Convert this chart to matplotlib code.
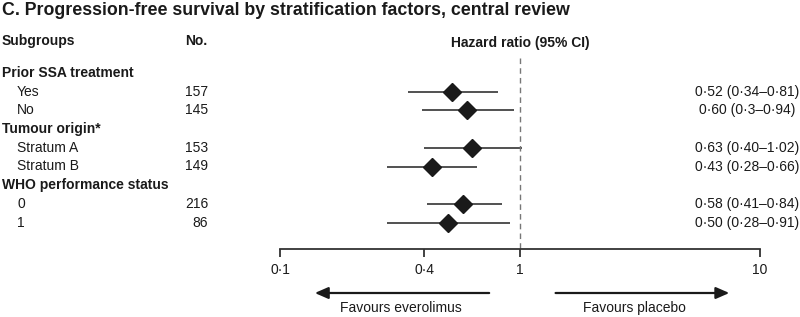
import numpy as np
import matplotlib.pyplot as plt
from matplotlib.transforms import blended_transform_factory

# Forest plot data
row_labels = ["Prior SSA treatment", "Yes", "No",
              "Tumour origin*", "Stratum A", "Stratum B",
              "WHO performance status", "0", "1"]
is_header = [True, False, False, True, False, False, True, False, False]
counts = ["", "157", "145", "", "153", "149", "", "216", "86"]
hr = [np.nan, 0.52, 0.60, np.nan, 0.63, 0.43, np.nan, 0.58, 0.50]
ci_lo = [np.nan, 0.34, 0.39, np.nan, 0.40, 0.28, np.nan, 0.41, 0.28]
ci_hi = [np.nan, 0.81, 0.94, np.nan, 1.02, 0.66, np.nan, 0.84, 0.91]
hr_text = ["", "0·52 (0·34–0·81)", "0·60 (0·3–0·94)", "",
           "0·63 (0·40–1·02)", "0·43 (0·28–0·66)", "",
           "0·58 (0·41–0·84)", "0·50 (0·28–0·91)"]
tick_vals = [0.1, 0.4, 1, 10]
tick_text = ["0·1", "0·4", "1", "10"]

plt.rcParams['font.family'] = ['Liberation Sans', 'DejaVu Sans']
ink = "#1a1a1a"
line_col = "#333333"

W, H = 800, 317
fig = plt.figure(figsize=(W / 100, H / 100), dpi=100)
# plot area spans x pixels 280..760 (0.1..10), full height
ax = fig.add_axes([280 / W, 0, (760 - 280) / W, 1])

row0, step = 73, 18.7  # pixel y of first row, row spacing
def row(py):
    return (py - row0) / step

ax.set_xscale("log")
ax.set_xlim(0.1, 10)
ax.set_ylim(row(H), row(0))

y = np.arange(len(row_labels))
ax.hlines(y, ci_lo, ci_hi, color=line_col, lw=1.2)
ax.plot(hr, y, "D", color=ink, ms=9.5, ls="none")

axis_y = row(249)
ax.vlines(1, row(58), axis_y, color="#777777", lw=1.0, linestyles=(0, (4, 3)))

for s in ["top", "left", "right"]:
    ax.spines[s].set_visible(False)
ax.spines["bottom"].set_position(("data", axis_y))
ax.spines["bottom"].set_color(line_col)
ax.spines["bottom"].set_linewidth(1.3)
ax.set_yticks([])
ax.xaxis.set_minor_locator(plt.NullLocator())
ax.set_xticks(tick_vals)
ax.set_xticklabels(tick_text, fontsize=10, color=ink)
ax.tick_params(axis="x", direction="out", length=6, width=1.3, color=line_col, pad=4)
ax.patch.set_alpha(0)

# arrows and favours labels
arr_y = row(293)
head = "-|>,head_length=0.8,head_width=0.35"
ax.annotate("", xy=(0.136, arr_y), xytext=(0.764, arr_y),
            arrowprops=dict(arrowstyle=head, color=ink, lw=1.6))
ax.annotate("", xy=(7.65, arr_y), xytext=(1.37, arr_y),
            arrowprops=dict(arrowstyle=head, color=ink, lw=1.6))
ax.text(0.319, row(308), "Favours everolimus", ha="center", va="center", fontsize=10, color=ink)
ax.text(2.99, row(308), "Favours placebo", ha="center", va="center", fontsize=10, color=ink)

# left table and right labels
tr = blended_transform_factory(fig.transFigure, ax.transData)
fig.text(2 / W, 1 - 2 / H, "C. Progression-free survival by stratification factors, central review",
         ha="left", va="top", fontsize=12.8, fontweight="bold", color=ink)
ax.text(2 / W, row(41), "Subgroups", transform=tr, ha="left", va="center",
        fontsize=10, fontweight="bold", color=ink)
ax.text(185 / W, row(41), "No.", transform=tr, ha="left", va="center",
        fontsize=10, fontweight="bold", color=ink)
ax.text(1, row(43), "Hazard ratio (95% CI)", ha="center", va="center",
        fontsize=10, fontweight="bold", color=ink)

for i, lab in enumerate(row_labels):
    if is_header[i]:
        ax.text(2 / W, i, lab, transform=tr, ha="left", va="center",
                fontsize=10, fontweight="bold", color=ink)
    else:
        ax.text(17 / W, i, lab, transform=tr, ha="left", va="center", fontsize=10, color=ink)
        ax.text(208 / W, i, counts[i], transform=tr, ha="right", va="center", fontsize=10, color=ink)
        ax.text(747 / W, i, hr_text[i], transform=tr, ha="center", va="center", fontsize=10, color=ink)

fig.savefig("out.png", dpi=100)
